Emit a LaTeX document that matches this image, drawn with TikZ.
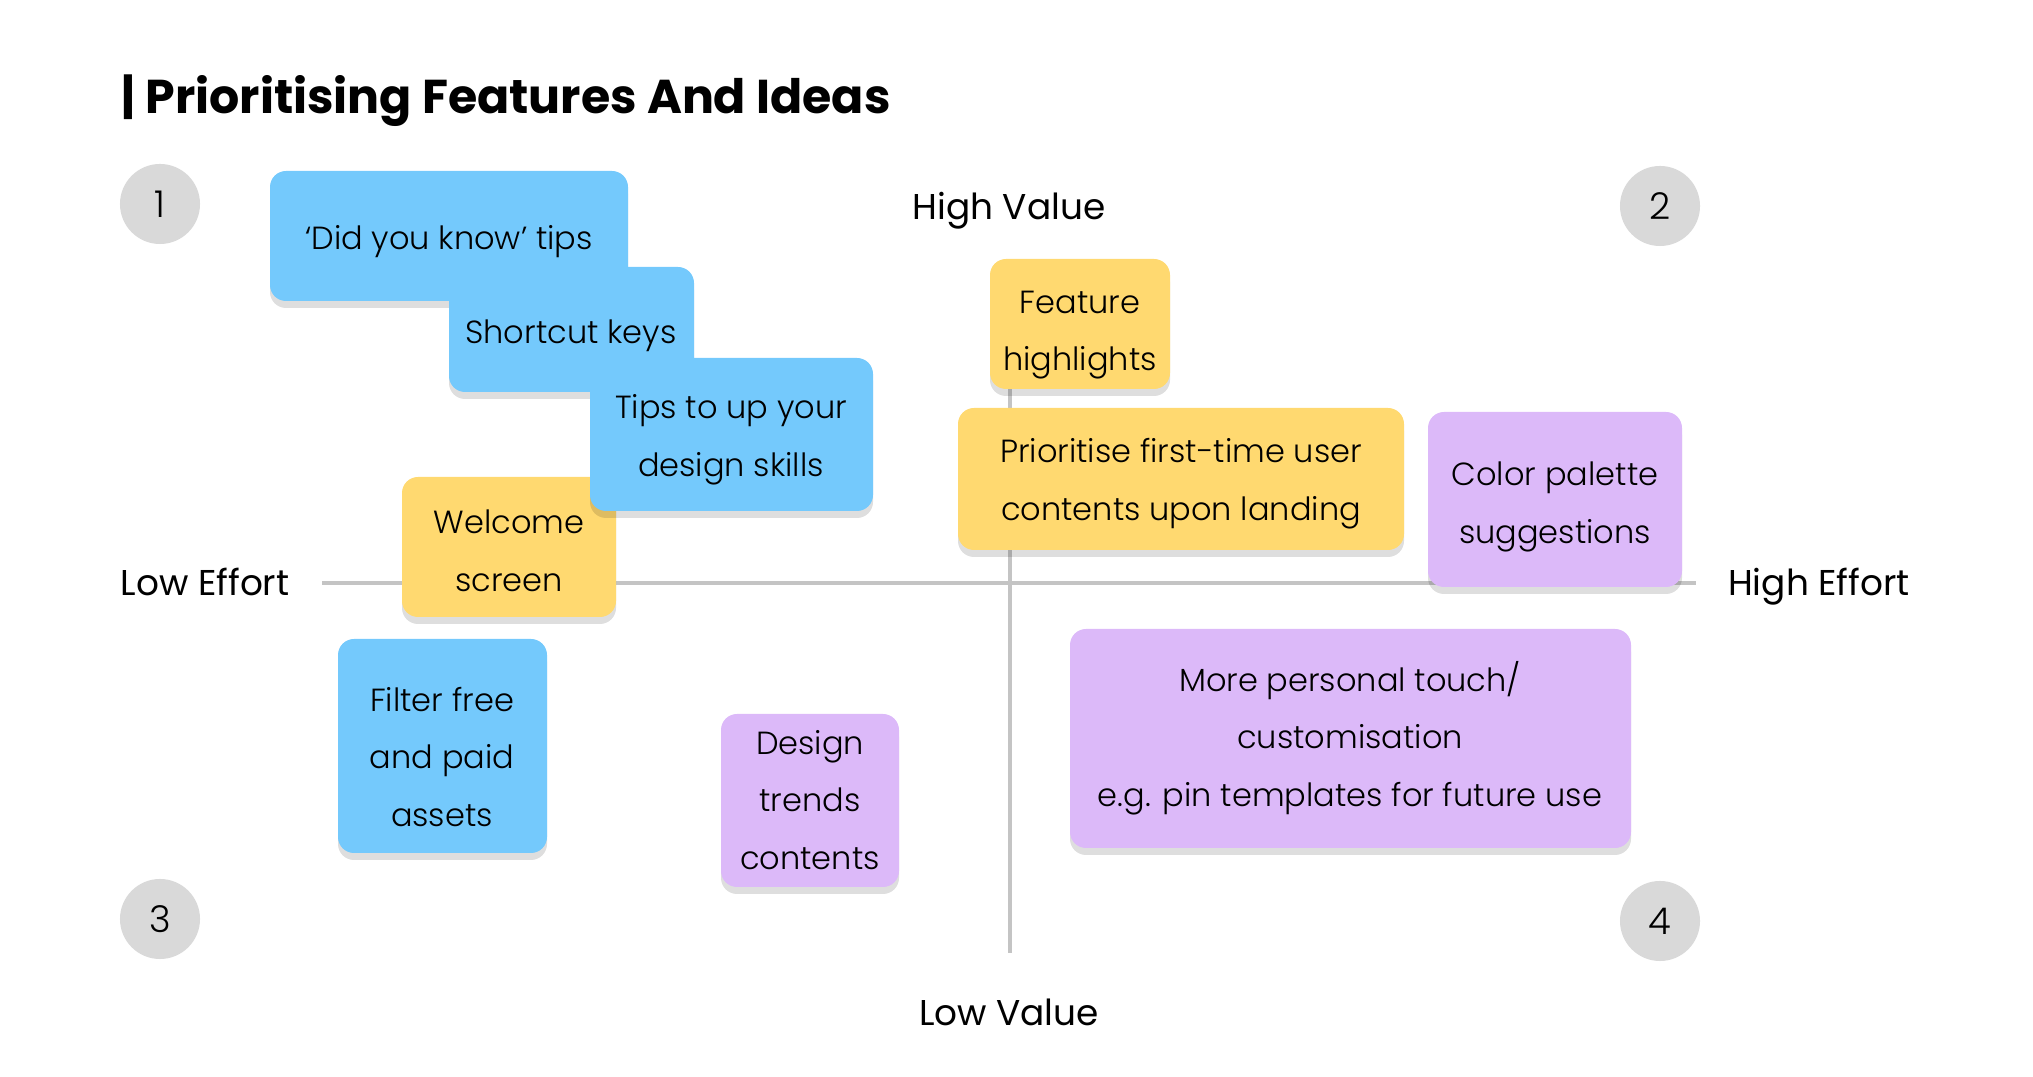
\documentclass[tikz,border=0pt]{standalone}
\usepackage{fontspec}
\setmainfont{Poppins}
\newfontfamily\lightfont{Poppins Light}
\usetikzlibrary{shadows}
\definecolor{mSkyBlue}{HTML}{74C9FC}
\definecolor{mSunYellow}{HTML}{FFD970}
\definecolor{mLavender}{HTML}{DCB9F9}
\definecolor{mMarkGray}{HTML}{D9D9D9}
\definecolor{mAxisGray}{HTML}{C4C4C4}

\begin{document}
\begin{tikzpicture}[x=0.01cm, y=-0.01cm,
  note/.style={rounded corners=0.16cm,
    drop shadow={shadow xshift=0pt, shadow yshift=-0.7mm, opacity=0.13, fill=black}},
  bluenote/.style={note, fill=mSkyBlue},
  yellownote/.style={note, fill=mSunYellow},
  purplenote/.style={note, fill=mLavender},
  notetext/.style={align=center, inner sep=0pt, font=\lightfont\fontsize{9.1}{16.4}\selectfont},
  quadmark/.style={circle, fill=mMarkGray, minimum size=0.8cm, inner sep=0pt, font=\lightfont\fontsize{10.5}{12}\selectfont},
  axislabel/.style={anchor=base, inner sep=0pt, font=\fontsize{10.2}{12}\selectfont}]
\useasboundingbox (0,0) rectangle (2033,1077);
\node[anchor=base west, inner sep=0pt, font=\fontsize{13.5}{16}\selectfont\bfseries] (title) at (121,114) {| Prioritising Features And Ideas};

% axes
\coordinate (effortL) at (322,583);
\coordinate (effortR) at (1696,583);
\coordinate (valueT) at (1010,300);
\coordinate (valueB) at (1010,953);
\draw[mAxisGray, line width=1.1pt] (effortL) -- (effortR);
\draw[mAxisGray, line width=1.1pt] (valueT) -- (valueB);
\node[axislabel] (highvalue) at (1009,220) {High Value};
\node[axislabel] (lowvalue) at (1009,1026) {Low Value};
\node[axislabel] (loweffort) at (205,596) {Low Effort};
\node[axislabel] (higheffort) at (1819,596) {High Effort};

% quadrant numbers
\node[quadmark] (q1) at (160,204) {1};
\node[quadmark] (q2) at (1660,206) {2};
\node[quadmark] (q3) at (160,919) {3};
\node[quadmark] (q4) at (1660,921) {4};

% quadrant 1
\fill[bluenote] (270,171) rectangle (628,301);
\node[notetext] (didyou) at (449,242) {‘Did you know’ tips};
\fill[bluenote] (449,267) rectangle (694,392);
\node[notetext] (shortcut) at (571,336) {Shortcut keys};
\fill[yellownote] (402,477) rectangle (616,617);
\node[notetext] (welcome) at (509,551) {Welcome\\screen};
\fill[bluenote] (590,358) rectangle (873,511);
\node[notetext] (tips) at (731,440) {Tips to up your\\design skills};

% quadrant 2
\fill[yellownote] (990,259) rectangle (1170,389);
\node[notetext] (feature) at (1080,335) {Feature\\highlights};
\fill[yellownote] (958,408) rectangle (1404,550);
\node[notetext] (firsttime) at (1181,484) {Prioritise first-time user\\contents upon landing};
\fill[purplenote] (1428,412) rectangle (1682,587);
\node[notetext] (palette) at (1555,507) {Color palette\\suggestions};

% quadrants 3 and 4
\fill[bluenote] (338,639) rectangle (547,853);
\node[notetext] (filter) at (442,757) {Filter free\\and paid\\assets};
\fill[purplenote] (721,714) rectangle (899,887);
\node[notetext] (trends) at (810,800) {Design\\trends\\contents};
\fill[purplenote] (1070,629) rectangle (1631,848);
\node[notetext] (personal) at (1350,738) {More personal touch/\\customisation\\e.g. pin templates for future use};
\end{tikzpicture}
\end{document}
